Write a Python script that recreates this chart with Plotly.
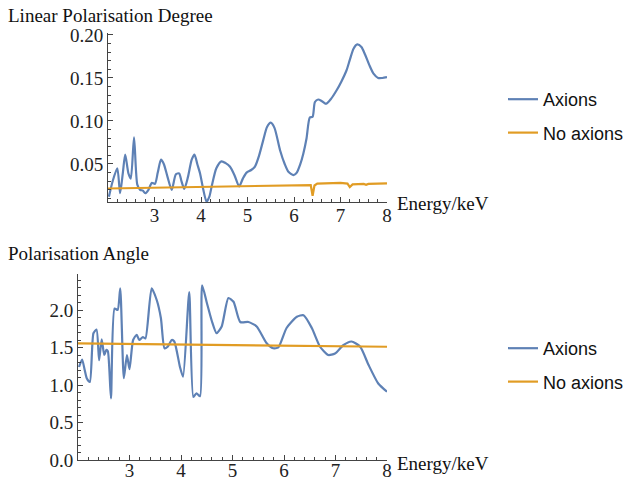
import plotly.graph_objects as go

BLUE = "#5E81B5"
ORANGE = "#E19C24"

# ---- Top panel: Linear Polarisation Degree ----
deg_energy_ax = [2.02, 2.1, 2.2, 2.26, 2.32, 2.37, 2.44, 2.49, 2.56, 2.63, 2.69, 2.75, 2.8, 2.87,
                 2.94, 3.01, 3.07, 3.14, 3.2, 3.28, 3.37, 3.46, 3.53, 3.58, 3.64, 3.72, 3.8, 3.86,
                 3.92, 3.98, 4.05, 4.12, 4.18, 4.23, 4.33, 4.44, 4.53, 4.62, 4.72, 4.82, 4.9, 4.98,
                 5.08, 5.16, 5.25, 5.34, 5.42, 5.5, 5.58, 5.7, 5.8, 5.88, 5.99, 6.06, 6.13, 6.2,
                 6.27, 6.34, 6.40, 6.45, 6.52, 6.6, 6.69, 6.8, 6.92, 7.02, 7.13, 7.2, 7.28, 7.36,
                 7.45, 7.53, 7.62, 7.71, 7.81, 7.9, 8.0]
deg_axions = [0.012, 0.03, 0.045, 0.016, 0.04, 0.061, 0.039, 0.033, 0.081, 0.026, 0.020, 0.019,
              0.016, 0.020, 0.028, 0.027, 0.04, 0.055, 0.05, 0.035, 0.020, 0.038, 0.039, 0.03,
              0.021, 0.035, 0.055, 0.061, 0.05, 0.039, 0.02, 0.006, 0.012, 0.024, 0.045, 0.053,
              0.051, 0.047, 0.037, 0.024, 0.033, 0.040, 0.043, 0.047, 0.06, 0.078, 0.093, 0.098,
              0.092, 0.066, 0.05, 0.041, 0.037, 0.040, 0.049, 0.062, 0.08, 0.104, 0.105, 0.122,
              0.125, 0.123, 0.120, 0.126, 0.136, 0.146, 0.159, 0.171, 0.184, 0.189, 0.186, 0.177,
              0.165, 0.155, 0.150, 0.150, 0.151]

deg_energy_no = [2.0, 3.0, 4.0, 5.0, 6.0, 6.3, 6.36, 6.4, 6.44, 6.5, 6.7, 7.0, 7.15, 7.2, 7.26,
                 7.4, 7.5, 7.55, 7.6, 8.0]
deg_no_axions = [0.0215, 0.0226, 0.0236, 0.0247, 0.0258, 0.0262, 0.0255, 0.013, 0.025, 0.0272,
                 0.0278, 0.028, 0.0272, 0.0232, 0.0262, 0.0265, 0.0268, 0.0258, 0.0268, 0.0275]

# ---- Bottom panel: Polarisation Angle ----
ang_energy_ax = [2.02, 2.08, 2.13, 2.17, 2.23, 2.30, 2.36, 2.41, 2.46, 2.51, 2.55, 2.58, 2.64, 2.71,
                 2.77, 2.82, 2.89, 2.95, 3.0, 3.07, 3.14, 3.19, 3.26, 3.31, 3.43, 3.53, 3.61, 3.68,
                 3.74, 3.82, 3.87, 3.98, 4.04, 4.16, 4.24, 4.30, 4.37, 4.41, 4.5, 4.6, 4.69, 4.79,
                 4.92, 5.02, 5.15, 5.31, 5.47, 5.66, 5.79, 5.89, 6.05, 6.25, 6.38, 6.54, 6.70, 6.86,
                 6.99, 7.15, 7.31, 7.48, 7.64, 7.83, 8.0]
ang_axions = [1.24, 1.34, 1.2, 1.09, 1.04, 1.69, 1.74, 1.33, 1.61, 1.40, 1.47, 1.45, 0.82, 2.02,
              2.00, 2.29, 1.09, 1.40, 1.21, 1.60, 1.67, 1.60, 1.64, 1.62, 2.29, 2.13, 1.89, 1.49,
              1.51, 1.60, 1.58, 1.24, 1.11, 2.24, 0.84, 0.89, 0.85, 2.33, 2.1, 1.85, 1.69, 1.78,
              2.16, 2.11, 1.84, 1.84, 1.78, 1.56, 1.49, 1.50, 1.76, 1.91, 1.93, 1.76, 1.51, 1.40,
              1.42, 1.53, 1.58, 1.51, 1.27, 1.02, 0.91]

ang_energy_no = [2.0, 3.0, 4.0, 5.0, 6.0, 7.0, 8.0]
ang_no_axions = [1.555, 1.548, 1.54, 1.533, 1.525, 1.518, 1.51]

W, H = 628, 481
def px(x):
    return x / W
def py(y):
    return 1 - y / H

SERIF = "Liberation Serif, Times New Roman, serif"
SANS = "Liberation Sans, Arial, sans-serif"

fig = go.Figure()
fig.add_trace(go.Scatter(x=deg_energy_ax, y=deg_axions, mode="lines", name="Axions",
                         line=dict(color=BLUE, width=2.2, shape="spline", smoothing=0.7),
                         xaxis="x", yaxis="y", legend="legend", legendgroup="a"))
fig.add_trace(go.Scatter(x=deg_energy_no, y=deg_no_axions, mode="lines", name="No axions",
                         line=dict(color=ORANGE, width=2.2),
                         xaxis="x", yaxis="y", legend="legend", legendgroup="b"))
fig.add_trace(go.Scatter(x=ang_energy_ax, y=ang_axions, mode="lines", name="Axions",
                         line=dict(color=BLUE, width=2.2, shape="spline", smoothing=0.6),
                         xaxis="x2", yaxis="y2", legend="legend2", legendgroup="c"))
fig.add_trace(go.Scatter(x=ang_energy_no, y=ang_no_axions, mode="lines", name="No axions",
                         line=dict(color=ORANGE, width=2.2),
                         xaxis="x2", yaxis="y2", legend="legend2", legendgroup="d"))

axis_common = dict(showline=True, linecolor="#444", linewidth=1, mirror=False,
                   showgrid=False, zeroline=False, ticks="inside", ticklen=5,
                   tickcolor="#444", tickwidth=1, automargin=False,
                   tickfont=dict(family=SERIF, size=19, color="#222"))

fig.update_layout(
    width=W, height=H,
    margin=dict(l=0, r=0, t=0, b=0, autoexpand=False),
    paper_bgcolor="white", plot_bgcolor="white",
    xaxis=dict(domain=[px(108), px(387)], range=[2, 8], anchor="y",
               tickvals=[3, 4, 5, 6, 7, 8], ticklabelstandoff=-4,
               minor=dict(ticks="inside", ticklen=3, tickcolor="#444", dtick=0.2, tick0=2),
               **axis_common),
    yaxis=dict(domain=[py(202), py(33)], range=[0.0058, 0.2023], anchor="x",
               tickvals=[0.05, 0.10, 0.15, 0.20], ticktext=["0.05", "0.10", "0.15", "0.20"],
               minor=dict(ticks="inside", ticklen=3, tickcolor="#444", dtick=0.01, tick0=0),
               **axis_common),
    xaxis2=dict(domain=[px(78), px(387)], range=[2, 8], anchor="y2",
                tickvals=[3, 4, 5, 6, 7, 8], ticklabelstandoff=-7,
                minor=dict(ticks="inside", ticklen=3, tickcolor="#444", dtick=0.2, tick0=2),
                **axis_common),
    yaxis2=dict(domain=[py(460), py(274)], range=[0, 2.48], anchor="x2",
                tickvals=[0, 0.5, 1.0, 1.5, 2.0], ticktext=["0.0", "0.5", "1.0", "1.5", "2.0"],
                minor=dict(ticks="inside", ticklen=3, tickcolor="#444", dtick=0.1, tick0=0),
                **axis_common),
    legend=dict(x=px(503), y=py(81), xanchor="left", yanchor="top",
                font=dict(family=SANS, size=18, color="#111"),
                bgcolor="rgba(0,0,0,0)", tracegroupgap=7),
    legend2=dict(x=px(503), y=py(330), xanchor="left", yanchor="top",
                 font=dict(family=SANS, size=18, color="#111"),
                 bgcolor="rgba(0,0,0,0)", tracegroupgap=7),
    showlegend=True,
)

annotations = [
    dict(text="Linear Polarisation Degree", x=px(6), y=py(15), xanchor="left", yanchor="middle"),
    dict(text="Polarisation Angle", x=px(6), y=py(253), xanchor="left", yanchor="middle"),
    dict(text="Energy/keV", x=px(395), y=py(203), xanchor="left", yanchor="middle"),
    dict(text="Energy/keV", x=px(395), y=py(463), xanchor="left", yanchor="middle"),
]
for a in annotations:
    fig.add_annotation(xref="paper", yref="paper", showarrow=False,
                       font=dict(family=SERIF, size=19, color="#111"), **a)

fig.write_html("out.html", config={"displayModeBar": False},
               post_script="document.body.style.margin='0';")
